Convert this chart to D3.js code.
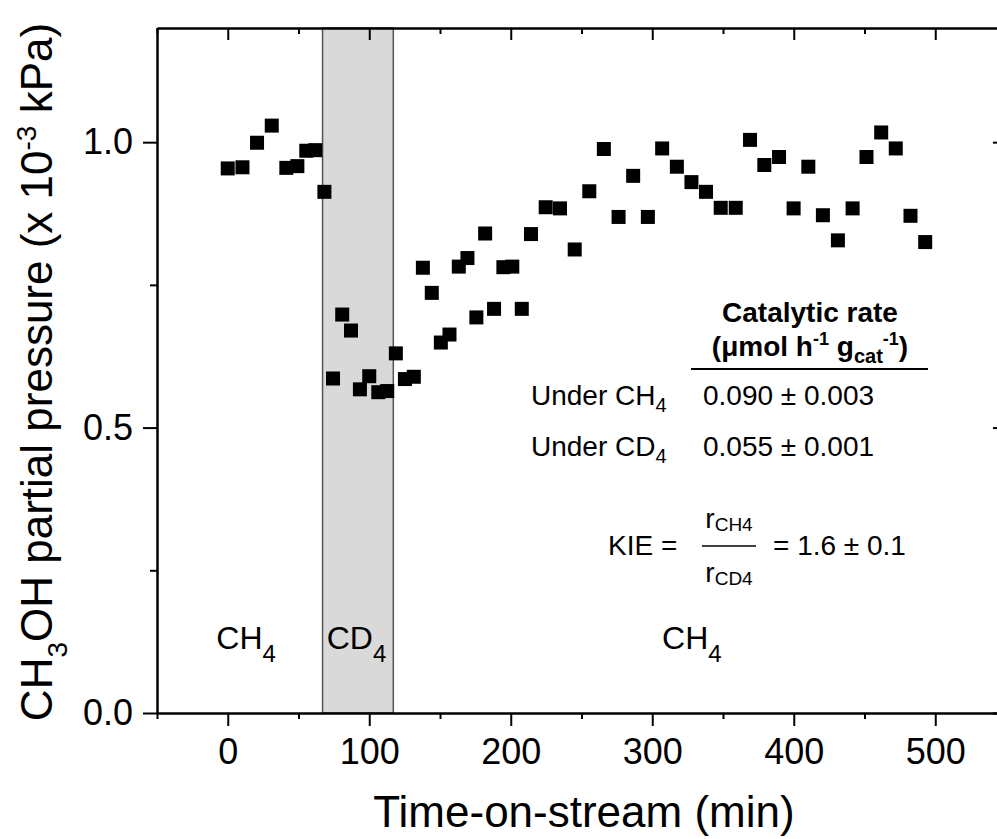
<!DOCTYPE html>
<html>
<head>
<meta charset="utf-8">
<script src="https://cdn.jsdelivr.net/npm/d3@7"></script>
<style>
  html, body { margin: 0; padding: 0; background: #fff; }
  svg { display: block; font-family: "Liberation Sans", Arial, Helvetica, sans-serif; }
</style>
</head>
<body>
<svg id="chart" width="997" height="839"></svg>
<script>
// Methanol partial pressure vs. time-on-stream (CH4 -> CD4 -> CH4 switch)
const timeMin = [
  0, 10.4, 20.7, 31.1, 41.4, 49.2, 55.5, 61.9, 68.3,
  74.4, 80.9, 87.1, 93.4, 100, 106.4, 112.7, 118.8, 125.2, 131.5,
  137.9, 144.2, 150.6, 156.7, 163.3, 169.4, 175.7, 181.9, 188.2, 194.8,
  201.1, 207.8, 214.3, 224.7, 234.8, 245.2, 255.5, 265.8, 276.2, 286.5,
  296.9, 307, 317.4, 327.7, 338, 348.4, 359, 369.1, 379.2, 389.6,
  399.9, 410.3, 420.6, 431.2, 441.6, 451.4, 461.8, 472.1, 482.5, 492.9
];
const ch3ohPressure = [
  0.954, 0.956, 0.999, 1.029, 0.955, 0.958, 0.985, 0.986, 0.913,
  0.586, 0.698, 0.670, 0.567, 0.590, 0.562, 0.564, 0.630, 0.585, 0.589,
  0.780, 0.736, 0.649, 0.663, 0.782, 0.797, 0.693, 0.840, 0.708, 0.781,
  0.782, 0.708, 0.839, 0.886, 0.884, 0.812, 0.914, 0.988, 0.869, 0.941,
  0.869, 0.989, 0.957, 0.930, 0.913, 0.885, 0.885, 1.004, 0.960, 0.974,
  0.884, 0.957, 0.872, 0.828, 0.884, 0.974, 1.017, 0.989, 0.871, 0.825
];
const cd4Window = [67, 117];
const xDomain = [-50, 550];
const yDomain = [0, 1.2];
const xMajorTicks = [0, 100, 200, 300, 400, 500];
const xMinorTicks = [-50, 50, 150, 250, 350, 450, 550];
const yMajorTicks = [0, 0.5, 1.0];
const yMinorTicks = [0.25, 0.75];
const gasLabels = [
  { gas: "CH", sub: "4", t: 13 },
  { gas: "CD", sub: "4", t: 91 },
  { gas: "CH", sub: "4", t: 328 }
];
const rateGases = ["CH", "CD"];
const rateValues = ["0.090 ± 0.003", "0.055 ± 0.001"];
const kieValue = "1.6 ± 0.1";

const svg = d3.select("#chart");
const plotLeft = 157, plotRight = 1006, plotTop = 28, plotBottom = 713;

const x = d3.scaleLinear().domain(xDomain).range([plotLeft, plotRight]);
const y = d3.scaleLinear().domain(yDomain).range([plotBottom, plotTop]);

// writes a run of tspans with sub/superscript offsets
function rich(textSel, parts) {
  let cur = 0;
  parts.forEach(p => {
    const shift = p.shift || 0;
    const ts = textSel.append("tspan").text(p.t).attr("dy", shift - cur);
    cur = shift;
    if (p.size) ts.attr("font-size", p.size);
  });
  return textSel;
}

// CD4 feed period
svg.append("rect")
  .attr("x", x(cd4Window[0]))
  .attr("y", y(yDomain[1]))
  .attr("width", x(cd4Window[1]) - x(cd4Window[0]))
  .attr("height", y(yDomain[0]) - y(yDomain[1]))
  .attr("fill", "#d9d9d9")
  .attr("stroke", "#555")
  .attr("stroke-width", 1.5);

// data points
const pts = timeMin.map((t, i) => ({ t, p: ch3ohPressure[i] }));
const ms = 14;
svg.append("g").selectAll("rect")
  .data(pts).join("rect")
  .attr("x", d => x(d.t) - ms / 2)
  .attr("y", d => y(d.p) - ms / 2)
  .attr("width", ms).attr("height", ms)
  .attr("fill", "#000");

// axes
function styleAxis(g) {
  g.selectAll("path.domain").attr("stroke", "#000").attr("stroke-width", 2);
  g.selectAll(".tick line").attr("stroke", "#000").attr("stroke-width", 2);
  g.selectAll(".tick text").attr("fill", "#000")
    .attr("font-family", "\"Liberation Sans\", Arial, sans-serif");
}

// bottom
svg.append("g").attr("transform", `translate(0,${plotBottom})`)
  .call(d3.axisBottom(x).tickValues(xMinorTicks).tickSize(6).tickSizeOuter(0).tickFormat(""))
  .call(styleAxis);
svg.append("g").attr("transform", `translate(0,${plotBottom})`)
  .call(d3.axisBottom(x).tickValues(xMajorTicks).tickSize(13).tickSizeOuter(0)
    .tickPadding(12).tickFormat(d3.format("d")))
  .call(styleAxis)
  .call(g => g.selectAll(".tick text").attr("font-size", 36));

// top
svg.append("g").attr("transform", `translate(0,${plotTop})`)
  .call(d3.axisTop(x).tickValues(xMinorTicks).tickSize(-6).tickSizeOuter(0).tickFormat(""))
  .call(styleAxis);
svg.append("g").attr("transform", `translate(0,${plotTop})`)
  .call(d3.axisTop(x).tickValues(xMajorTicks).tickSize(-12).tickSizeOuter(0).tickFormat(""))
  .call(styleAxis);

// left
svg.append("g").attr("transform", `translate(${plotLeft},0)`)
  .call(d3.axisLeft(y).tickValues(yMinorTicks).tickSize(7).tickSizeOuter(0).tickFormat(""))
  .call(styleAxis);
svg.append("g").attr("transform", `translate(${plotLeft},0)`)
  .call(d3.axisLeft(y).tickValues(yMajorTicks).tickSize(14).tickSizeOuter(0)
    .tickPadding(10).tickFormat(d3.format(".1f")))
  .call(styleAxis)
  .call(g => g.selectAll(".tick text").attr("font-size", 36));

// right
svg.append("g").attr("transform", `translate(${plotRight},0)`)
  .call(d3.axisRight(y).tickValues(yMinorTicks).tickSize(-6).tickSizeOuter(0).tickFormat(""))
  .call(styleAxis);
svg.append("g").attr("transform", `translate(${plotRight},0)`)
  .call(d3.axisRight(y).tickValues(yMajorTicks).tickSize(-13).tickSizeOuter(0).tickFormat(""))
  .call(styleAxis);

// axis titles
svg.append("text")
  .attr("x", 584).attr("y", 827)
  .attr("text-anchor", "middle")
  .attr("font-size", 44)
  .text("Time-on-stream (min)");

rich(svg.append("text")
  .attr("transform", "translate(52,372) rotate(-90)")
  .attr("text-anchor", "middle")
  .attr("font-size", 44), [
    { t: "CH" },
    { t: "3", size: 28, shift: 15 },
    { t: "OH partial pressure (x 10" },
    { t: "-3", size: 28, shift: -16 },
    { t: " kPa)" }
  ]);

// feed gas labels
gasLabels.forEach(d => {
  rich(svg.append("text")
    .attr("x", x(d.t)).attr("y", 649)
    .attr("text-anchor", "middle")
    .attr("font-size", 32), [
      { t: d.gas },
      { t: d.sub, size: 24, shift: 13 }
    ]);
});

// rate table
const ann = svg.append("g").attr("font-size", 28);
ann.append("text")
  .attr("x", 810).attr("y", 322)
  .attr("text-anchor", "middle")
  .attr("font-weight", "bold")
  .text("Catalytic rate");
rich(ann.append("text")
  .attr("x", 810).attr("y", 356)
  .attr("text-anchor", "middle")
  .attr("font-weight", "bold"), [
    { t: "(μmol h" },
    { t: "-1", size: 18, shift: -11 },
    { t: " g" },
    { t: "cat", size: 20, shift: 7 },
    { t: "-1", size: 18, shift: -11 },
    { t: ")" }
  ]);
ann.append("line")
  .attr("x1", 691).attr("x2", 928)
  .attr("y1", 369).attr("y2", 369)
  .attr("stroke", "#000").attr("stroke-width", 2);

rateGases.forEach((g, i) => {
  const yb = 405 + i * 50.7;
  rich(ann.append("text").attr("x", 531).attr("y", yb), [
    { t: "Under " + g },
    { t: "4", size: 20, shift: 7 }
  ]);
  ann.append("text").attr("x", 703).attr("y", yb).text(rateValues[i]);
});

// KIE expression
ann.append("text").attr("x", 608).attr("y", 555).text("KIE =");
rich(ann.append("text").attr("x", 729).attr("y", 528).attr("text-anchor", "middle"), [
  { t: "r" },
  { t: "CH4", size: 19, shift: 3 }
]);
rich(ann.append("text").attr("x", 729).attr("y", 582).attr("text-anchor", "middle"), [
  { t: "r" },
  { t: "CD4", size: 19, shift: 3 }
]);
ann.append("line")
  .attr("x1", 702).attr("x2", 756)
  .attr("y1", 546).attr("y2", 546)
  .attr("stroke", "#000").attr("stroke-width", 1.5);
ann.append("text").attr("x", 773).attr("y", 555).text("= " + kieValue);
</script>
</body>
</html>
